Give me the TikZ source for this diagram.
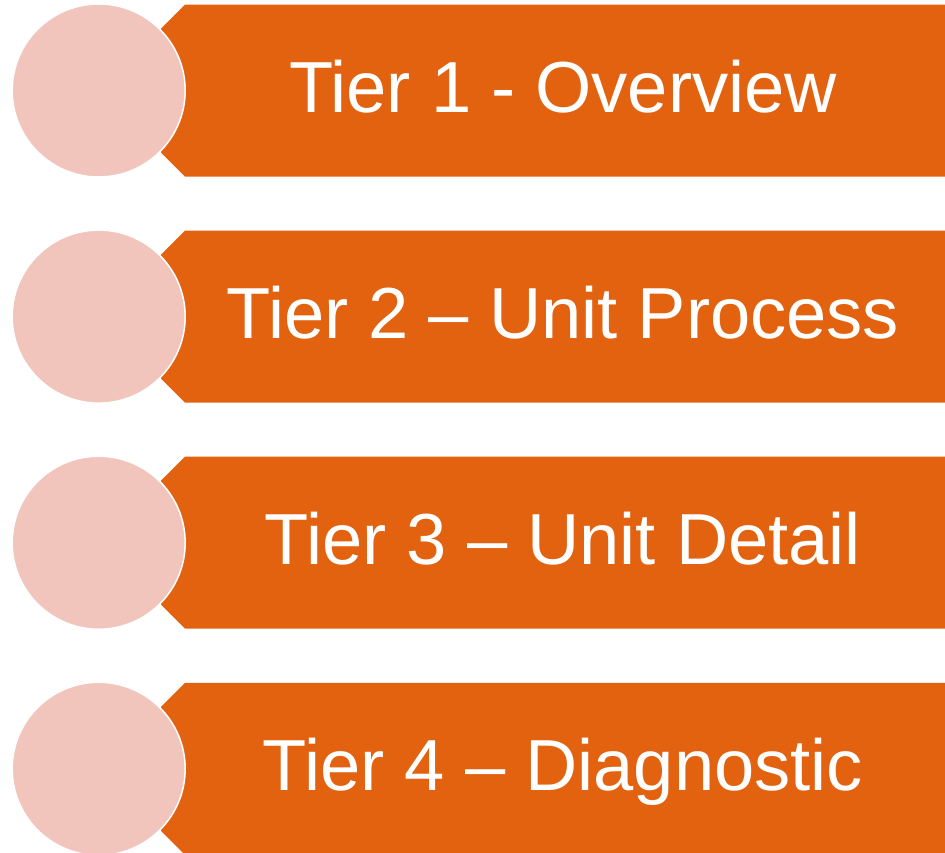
\documentclass[tikz,border=0pt]{standalone}
\usepackage{fontspec}
\setmainfont{Liberation Sans}
\definecolor{bannerorange}{RGB}{227,98,16}
\definecolor{discpink}{RGB}{241,196,188}
\tikzset{
  banner/.style={fill=bannerorange, draw=none},
  disc/.style={circle, fill=discpink, draw=white, line width=1.5pt, minimum size=173pt, inner sep=0pt},
  label/.style={text=white, anchor=base, inner sep=0pt, font=\fontsize{72.3}{80}\selectfont}
}
\begin{document}
\begin{tikzpicture}[x=1pt,y=-1pt]
\useasboundingbox (0,0) rectangle (945,852);
\foreach \k/\txt in {0/{Tier 1 - Overview},1/{Tier 2 – Unit Process},2/{Tier 3 – Unit Detail},3/{Tier 4 – Diagnostic}}{
  \pgfmathsetmacro{\t}{4.5+226.1*\k}
  \fill[banner] (185,\t) -- (945,\t) -- (945,\t+172) -- (185,\t+172) -- (161,\t+148) -- (161,\t+24) -- cycle;
  \node[disc] (c\k) at (98.7,\t+86) {};
  \node[label] (t\k) at (563,\t+107.5) {\txt};
}
\end{tikzpicture}
\end{document}
